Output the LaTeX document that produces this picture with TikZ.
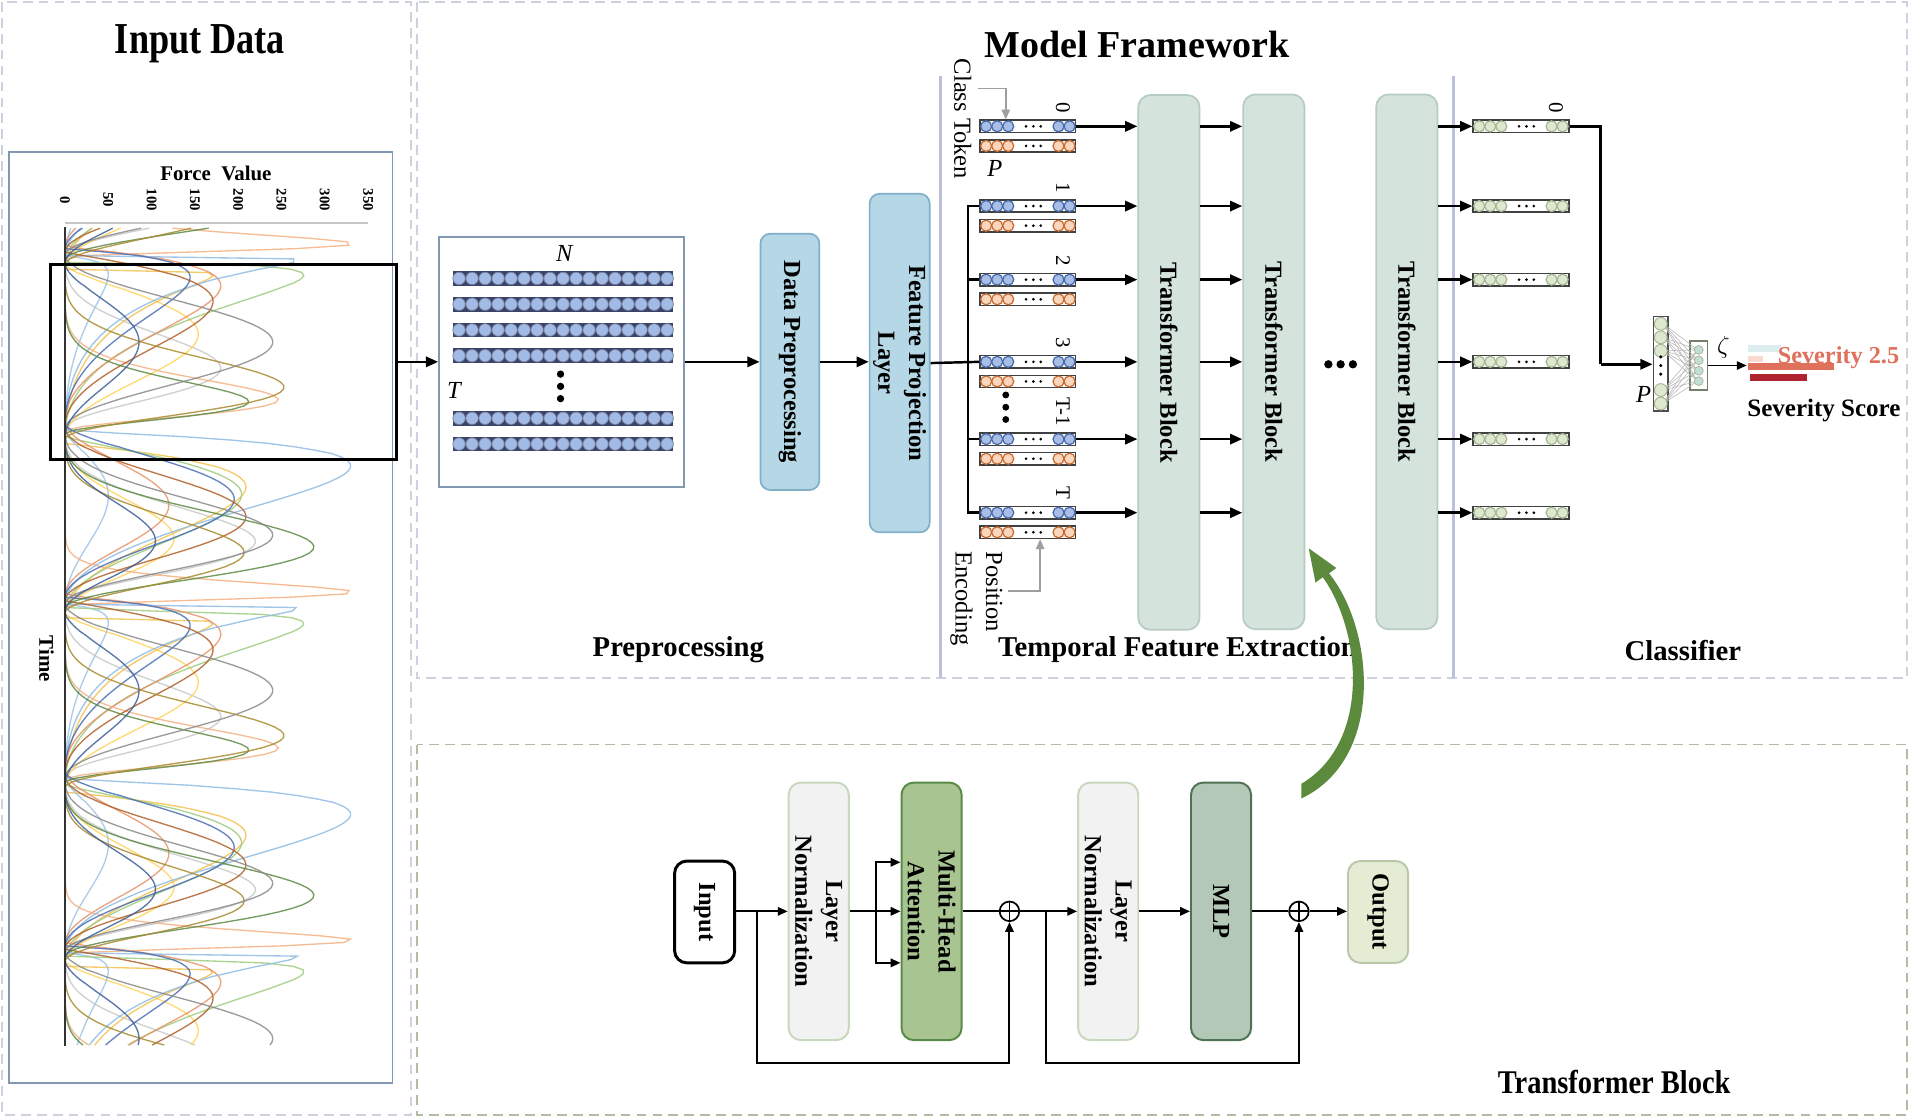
\documentclass[tikz,border=0pt]{standalone}
\usepackage{fontspec}
\setmainfont{Liberation Serif}
\usepackage{graphicx}
\usetikzlibrary{arrows.meta}

\definecolor{panelgray}{RGB}{205,210,222}
\definecolor{panelgreen}{RGB}{176,188,164}
\definecolor{plotframe}{RGB}{130,152,176}
\definecolor{prebox}{RGB}{182,216,230}
\definecolor{preedge}{RGB}{128,176,200}
\definecolor{tbfill}{RGB}{213,227,221}
\definecolor{tbedge}{RGB}{182,204,194}
\definecolor{sepline}{RGB}{188,192,222}
\definecolor{tokblue}{RGB}{168,190,230}
\definecolor{tokblueedge}{RGB}{70,105,170}
\definecolor{tokorange}{RGB}{250,214,190}
\definecolor{tokorangeedge}{RGB}{200,105,45}
\definecolor{tokgreen}{RGB}{222,232,206}
\definecolor{tokgreenedge}{RGB}{165,182,150}
\definecolor{rownavy}{RGB}{58,68,105}
\definecolor{rowcircle}{RGB}{162,186,230}
\definecolor{lnfill}{RGB}{242,242,242}
\definecolor{lnedge}{RGB}{200,216,190}
\definecolor{mhafill}{RGB}{168,196,144}
\definecolor{mhaedge}{RGB}{90,138,72}
\definecolor{mlpfill}{RGB}{180,200,184}
\definecolor{mlpedge}{RGB}{80,115,85}
\definecolor{outfill}{RGB}{228,236,212}
\definecolor{outedge}{RGB}{184,200,168}
\definecolor{sevcoral}{RGB}{222,112,92}
\definecolor{sevred}{RGB}{176,36,50}
\definecolor{sevblue}{RGB}{222,238,240}
\definecolor{sevpink}{RGB}{250,218,208}
\definecolor{arrowgreen}{RGB}{92,138,60}
% force curve colours
\definecolor{fcA}{HTML}{F4B183}
\definecolor{fcB}{HTML}{8FBBE3}
\definecolor{fcC}{HTML}{C8C8C8}
\definecolor{fcD}{HTML}{FFD45C}
\definecolor{fcE}{HTML}{4A6FB5}
\definecolor{fcF}{HTML}{9ECB7E}
\definecolor{fcG}{HTML}{B0602A}
\definecolor{fcH}{HTML}{5E8A45}
\definecolor{fcI}{HTML}{A88A2E}
\definecolor{fcJ}{HTML}{8A8A8A}
\definecolor{fcK}{HTML}{9DC3E6}
\definecolor{fcL}{HTML}{F2C24E}
\definecolor{fcM}{HTML}{E8946A}
\definecolor{fcN}{HTML}{3E5F96}

% colour, amplitude, skew, phase, alternation
\newcommand{\forcecurve}[5]{%
  \draw[forceline, #1] plot[domain=186:852, samples=240]
    ({53+0.706*#2*(1+#5*cos(180*floor((\x-#4+1420)/142)))*pow(sin(180*pow(min(mod(\x-#4+1420,142)/142+0.002,1),#3*(1+0.45*cos(180*floor((\x-#4+1420)/142)+57*#3)))),2)}, \x);}

% name, centre x, centre y, circle fill, circle edge
\newcommand{\tokenbar}[5]{%
  \node[tokbar] (#1) at (#2,#3) {};
  \foreach \k in {5,14,23,64,73}
    \filldraw[fill=#4, draw=#5, line width=0.5pt] ({#2-39+\k},#3) circle (2.25pt);
  \foreach \k in {37.5,43.5,49.5}
    \fill ({#2-39+\k},#3) circle (0.6pt);
}

\begin{document}
\begin{tikzpicture}[x=0.5pt, y=-0.5pt,
  panel/.style={dashed, dash pattern=on 4pt off 2.5pt, line width=0.7pt},
  forceline/.style={line width=0.55pt, opacity=0.85},
  flow/.style={line width=1pt, -{Triangle[length=5pt,width=4.2pt]}},
  thinflow/.style={line width=0.8pt, -{Triangle[length=4pt,width=3.4pt]}},
  graylink/.style={draw=gray!75, line width=0.6pt, -{Triangle[length=4pt,width=3.4pt]}},
  stage/.style={draw=preedge, fill=prebox, rounded corners=4pt, line width=0.7pt},
  tblock/.style={draw=tbedge, fill=tbfill, rounded corners=5pt, line width=0.7pt, minimum width=25pt, minimum height=218pt},
  subblock/.style={rounded corners=5pt, line width=0.8pt, minimum width=24.5pt, minimum height=105pt},
  vtext/.style={rotate=-90, font=\bfseries\fontsize{10}{12.5}\selectfont, align=center},
  lbl/.style={font=\bfseries\fontsize{11.7}{13}\selectfont},
  idx/.style={rotate=-90, anchor=east, inner sep=0.5pt, font=\fontsize{8.5}{9}\selectfont},
  tokbar/.style={draw=black!75, fill=white, line width=0.6pt, minimum width=39pt, minimum height=5pt, inner sep=0pt},
  addnode/.style={circle, draw, line width=0.7pt, minimum size=8pt, inner sep=0pt,
    path picture={\draw (path picture bounding box.north) -- (path picture bounding box.south)
      (path picture bounding box.west) -- (path picture bounding box.east);}}
]
\useasboundingbox (0,0) rectangle (1567,911.5);

% panels
\draw[panel, draw=panelgray] (1.5,1.5) rectangle (335,909);
\draw[panel, draw=panelgray] (340,1.5) rectangle (1555,553);
\draw[panel, draw=panelgreen] (340,607) rectangle (1555,909);

% input data
\node[font=\bfseries\fontsize{18}{20}\selectfont] (title1) at (163,36) {\scalebox{0.82}[1]{Input Data}};
\draw[plotframe, line width=0.8pt] (7,124) rectangle (320,883);
\node[font=\bfseries\fontsize{8.5}{10}\selectfont] (forcetitle) at (176,141) {Force\ \ Value};
\foreach \v in {0,50,...,350}
  \node[rotate=-90, font=\bfseries\fontsize{6}{7}\selectfont] at ({53+0.706*\v},163) {\v};
\draw[gray!45, line width=0.7pt] (53,182) -- (300,182);
\node[rotate=-90, font=\bfseries\fontsize{8.5}{10}\selectfont] (timelbl) at (38,537) {Time};

\forcecurve{fcC}{200}{1.6}{350}{0.1}
\forcecurve{fcD}{140}{1.0}{358}{-0.1}
\forcecurve{fcL}{190}{0.35}{362}{0.1}
\forcecurve{fcK}{50}{0.5}{352}{0}
\forcecurve{fcF}{240}{0.45}{356}{-0.15}
\forcecurve{fcM}{150}{0.7}{344}{-0.2}
\forcecurve{fcA}{290}{6}{352}{0.15}
\forcecurve{fcB}{300}{0.3}{352}{0.1}
\forcecurve{fcE}{170}{0.6}{346}{0.15}
\forcecurve{fcG}{190}{0.8}{348}{0.1}
\forcecurve{fcH}{250}{2.5}{354}{0.15}
\forcecurve{fcI}{230}{1.8}{358}{-0.1}
\forcecurve{fcJ}{240}{1.2}{350}{0}
\forcecurve{fcN}{95}{1.1}{357}{0.1}
\draw[black!80, line width=0.6pt] (53,185) -- (53,853);

\node[draw, line width=1.1pt, minimum width=141pt, minimum height=79.5pt, inner sep=0pt] (sel) at (182,295) {};

% preprocessing
\node[draw=plotframe, line width=0.8pt, minimum width=100pt, minimum height=102pt, inner sep=0pt] (seq) at (458,295) {};
\node[font=\itshape\fontsize{10}{12}\selectfont] (nlbl) at (460,207) {N};
\node[font=\itshape\fontsize{10}{12}\selectfont] (tlbl) at (370,318) {T};
\foreach \r in {227,248,269,290,341,362} {
  \fill[rownavy] (369,\r-6) rectangle (549,\r+6);
  \foreach \k in {0,...,16}
    \filldraw[fill=rowcircle, draw=rownavy!70, line width=0.3pt] ({374.3+10.6*\k},\r) circle (2.55pt);
}
\foreach \d in {305,315,325} \fill (457,\d) circle (1.5pt);

\node[stage, minimum width=24pt, minimum height=104.5pt] (prep) at (644,295) {};
\node[vtext] at (prep) {Data Preprocessing};
\node[stage, minimum width=24.5pt, minimum height=138pt] (proj) at (733.5,296) {};
\node[vtext] at (proj) {Feature Projection\\Layer};

\draw[flow] (sel.east) -- (seq.west);
\draw[flow] (seq.east) -- (prep.west);
\draw[flow] (prep.east) -- (proj.west |- prep.east);

% separators
\draw[sepline, line width=1.3pt] (767,62) -- (767,553);
\draw[sepline, line width=1.3pt] (1185,62) -- (1185,553);

% transformer stack
\node[tblock] (tb1) at (953,295.5) {};
\node[tblock] (tb2) at (1038.5,295) {};
\node[tblock] (tb3) at (1147,295) {};
\foreach \t in {tb1,tb2,tb3} \node[vtext] at (\t) {Transformer Block};
\foreach \d in {1083,1093,1103} \fill (\d,297) circle (1.7pt);

% tokens
\foreach \n/\y in {0/103,1/168,2/228,3/295,T1/358,T/418} {
  \tokenbar{b\n}{838}{\y}{tokblue}{tokblueedge}
  \tokenbar{o\n}{838}{\y+16}{tokorange}{tokorangeedge}
  \tokenbar{g\n}{1240}{\y}{tokgreen}{tokgreenedge}
}
\foreach \n/\t in {0/0,1/1,2/2,3/3,T1/T-1,T/T}
  \node[idx] at ([xshift=-5.5pt,yshift=2pt]b\n.north east) {\t};
\node[idx] at ([xshift=-5.5pt,yshift=2pt]g0.north east) {0};
\node[font=\itshape\fontsize{10}{12}\selectfont] (plbl) at (811,137) {P};
\foreach \d in {322,332,342} \fill (820,\d) circle (1.4pt);

\coordinate (trunk) at (789,0);
\draw[line width=1pt] (proj.east) -- (b3.west);
\draw[line width=1pt] (b1.west) -- (b1.west -| trunk) -- (bT.west -| trunk) -- (bT.west);
\foreach \b in {b2,bT1} \draw[line width=1pt] (\b.west -| trunk) -- (\b.west);

\foreach \n in {0,1,2,3,T1,T} {
  \draw[flow] (b\n.east) -- (b\n.east -| tb1.west);
  \draw[flow] (b\n.east -| tb1.east) -- (b\n.east -| tb2.west);
  \draw[flow] (b\n.east -| tb3.east) -- (g\n.west);
}

\node[rotate=-90, font=\fontsize{10}{12}\selectfont] (cls) at (785,97) {Class Token};
\coordinate (clsfrom) at (797,72);
\draw[graylink] (clsfrom) -| ([xshift=-9pt]b0.north);
\node[rotate=-90, align=left, font=\fontsize{10}{12.5}\selectfont] (pos) at (796,488) {Position\\Encoding};
\coordinate (posfrom) at (822,482);
\draw[graylink] (posfrom) -| ([xshift=5pt]oT.south);

% classifier
\node[draw=black!70, line width=0.7pt, fill=white, minimum width=6pt, minimum height=38.5pt, inner sep=0pt] (col) at (1354,296.5) {};
\node[draw=tokgreenedge!70!black, line width=0.7pt, fill=white, minimum width=7pt, minimum height=20pt, inner sep=0pt] (hid) at (1385,298) {};
\foreach \a in {-32.5,-21.5,-10.5,21.5,32.5}
  \foreach \b in {-12.75,-4.25,4.25,12.75}
    \draw[gray!55, line width=0.25pt] (1356,296.5+\a) -- (1384,298+\b);
\foreach \a in {-32.5,-21.5,-10.5,21.5,32.5}
  \filldraw[fill=tokgreen, draw=tokgreenedge, line width=0.4pt] (1354,296.5+\a) circle (2.6pt);
\foreach \d in {291,298,305} \fill (1354,\d) circle (0.7pt);
\foreach \b in {-12.75,-4.25,4.25,12.75}
  \filldraw[fill=tokgreen!70!teal!60, draw=tokgreenedge, line width=0.3pt] (1385,298+\b) circle (1.8pt);
\node[font=\itshape\fontsize{10}{12}\selectfont] (plbl2) at (1340,322) {P};
\draw[line width=1pt] (g0.east) -- (1305,103) -- (1305,297) coordinate (turn);
\draw[flow] (turn) -- (col.west |- turn);
\coordinate (sev) at (1424,298);
\draw[line width=0.7pt, -{Triangle[length=4pt,width=3.4pt]}] (hid.east) -- (sev);
\node (zeta) at (1405,283) {$\zeta$};
\fill[sevblue] (1425,281) rectangle (1452,287);
\fill[sevpink] (1425,290) rectangle (1437,295);
\fill[sevcoral] (1425,296) rectangle (1495,302);
\fill[sevred] (1427,305) rectangle (1473,311);
\node[anchor=base west, inner sep=0pt, text=sevcoral, font=\bfseries\fontsize{9.9}{12}\selectfont] (sevtext) at (1449,296) {Severity 2.5};
\node[font=\bfseries\fontsize{10.2}{12}\selectfont] (sevscore) at (1487,335) {Severity Score};

% section labels
\node[font=\bfseries\fontsize{15.5}{18}\selectfont] (title2) at (927,36) {Model Framework};
\node[lbl] at (553,530) {Preprocessing};
\node[lbl] at (960,530) {Temporal Feature Extraction};
\node[lbl] at (1372,530) {Classifier};

% transformer block detail
\node[draw, fill=white, line width=1.2pt, rounded corners=5pt, minimum width=24.5pt, minimum height=41.5pt] (inp) at (574.5,743.5) {};
\node[vtext] at (inp) {Input};
\node[subblock, draw=lnedge, fill=lnfill] (ln1) at (667.5,743) {};
\node[vtext] at (ln1) {Layer\\Normalization};
\node[subblock, draw=mhaedge, fill=mhafill] (mha) at (759.5,743) {};
\node[vtext] at (mha) {Multi-Head\\Attention};
\node[addnode] (add1) at (823,743) {};
\node[subblock, draw=lnedge, fill=lnfill] (ln2) at (903.5,743) {};
\node[vtext] at (ln2) {Layer\\Normalization};
\node[subblock, draw=mlpedge, fill=mlpfill] (mlp) at (995.5,743) {};
\node[vtext] at (mlp) {MLP};
\node[addnode] (add2) at (1059,743) {};
\node[draw=outedge, fill=outfill, line width=0.8pt, rounded corners=5pt, minimum width=24.5pt, minimum height=41.5pt] (out) at (1123.5,743.5) {};
\node[vtext] at (out) {Output};

\coordinate (split1) at (617,743);
\coordinate (ret1) at (617,867);
\coordinate (fork) at (714,743);
\coordinate (split2) at (853,743);
\coordinate (ret2) at (853,867);
\draw[thinflow] (inp.east |- split1) -- (ln1.west |- split1);
\draw[thinflow] (split1) -- (ret1) -| (add1.south);
\draw[thinflow] (ln1.east) -- (mha.west);
\draw[thinflow] (fork) |- ([yshift=20pt]mha.west);
\draw[thinflow] (fork) |- ([yshift=-21pt]mha.west);
\draw[line width=0.8pt] (mha.east) -- (add1.west);
\draw[thinflow] (add1.east) -- (ln2.west);
\draw[thinflow] (split2) -- (ret2) -| (add2.south);
\draw[thinflow] (ln2.east) -- (mlp.west);
\draw[line width=0.8pt] (mlp.east) -- (add2.west);
\draw[thinflow] (add2.east) -- (out.west |- add2.east);

\fill[arrowgreen] (1061,651) .. controls (1130,618) and (1120,512) .. (1083.5,467.4)
  -- (1089.5,463.1) -- (1067,447) -- (1072.5,474.9) -- (1078.5,470.6)
  .. controls (1110,515) and (1118,605) .. (1061,639) -- cycle;

\node[font=\bfseries\fontsize{13.5}{15}\selectfont] (title3) at (1316,882) {\scalebox{0.86}[1]{Transformer Block}};
\end{tikzpicture}
\end{document}
